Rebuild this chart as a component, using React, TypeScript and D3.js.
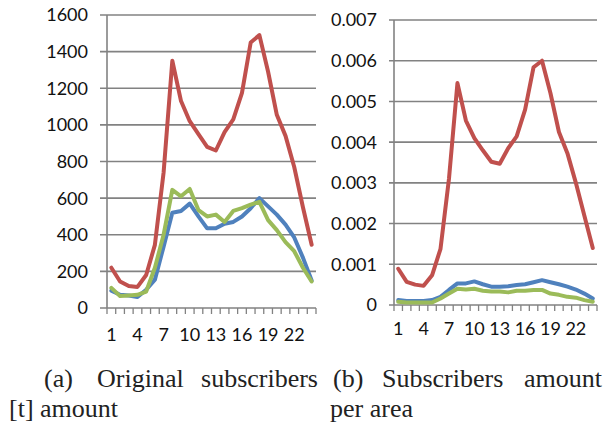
import React from 'react';
import * as d3 from 'd3';

// hour of day (x categories), shared by both panels
const hours = [1, 2, 3, 4, 5, 6, 7, 8, 9, 10, 11, 12, 13, 14, 15, 16, 17, 18, 19, 20, 21, 22, 23, 24];
const hourLabels = [1, 4, 7, 10, 13, 16, 19, 22];

// (a) original subscribers amount
const rawRed = [220, 145, 120, 115, 180, 345, 740, 1350, 1130, 1020, 950, 880, 860, 960, 1030, 1175, 1450, 1490, 1290, 1055, 940, 770, 550, 345];
const rawBlue = [95, 72, 68, 60, 100, 155, 335, 520, 530, 570, 500, 435, 435, 460, 470, 500, 545, 600, 555, 510, 455, 385, 275, 150];
const rawGreen = [110, 65, 68, 72, 90, 220, 400, 645, 610, 650, 535, 500, 510, 470, 530, 545, 565, 580, 480, 425, 360, 310, 220, 145];

// (b) subscribers amount per area
const areaRed = [0.00089, 0.00057, 0.0005, 0.00047, 0.00073, 0.00138, 0.0031, 0.00545, 0.00453, 0.0041, 0.0038, 0.00352, 0.00347, 0.00385, 0.00414, 0.0048, 0.00584, 0.006, 0.0052, 0.00425, 0.00373, 0.003, 0.0022, 0.0014];
const areaBlue = [0.00012, 0.0001, 0.0001, 0.0001, 0.00012, 0.0002, 0.00037, 0.00053, 0.00053, 0.00058, 0.00051, 0.00045, 0.00045, 0.00046, 0.00049, 0.00051, 0.00056, 0.00061, 0.00056, 0.00051, 0.00045, 0.00038, 0.00028, 0.00016];
const areaGreen = [0.00008, 0.00006, 0.00006, 0.00006, 0.00006, 0.00016, 0.00028, 0.0004, 0.00038, 0.0004, 0.00035, 0.00033, 0.00033, 0.00031, 0.00035, 0.00035, 0.00037, 0.00037, 0.00028, 0.00025, 0.0002, 0.00018, 0.00012, 0.00008];

const BLUE = '#4f81bd';
const RED = '#c0504d';
const GREEN = '#9bbb59';
const GRID = '#828282';
const TICK_FONT = 'Lato, Open Sans, sans-serif';
const SERIF = 'Liberation Serif, Times New Roman, Times, serif';

interface PanelProps {
  left: number;
  right: number;
  top: number;
  bottom: number;
  yMax: number;
  yTicks: number;
  gridStart: number;
  labelX: number;
  xLabelY: number;
  fmt: (v: number) => string;
  series: { values: number[]; color: string }[];
}

const Panel: React.FC<PanelProps> = ({ left, right, top, bottom, yMax, yTicks, gridStart, labelX, xLabelY, fmt, series }) => {
  const x = d3.scaleBand<number>().domain(hours).range([left, right]).padding(0);
  const y = d3.scaleLinear().domain([0, yMax]).range([bottom, top]);
  const cx = (h: number) => (x(h) as number) + x.bandwidth() / 2;
  const line = d3
    .line<number>()
    .x((_, i) => cx(hours[i]))
    .y((v) => y(v));
  const bounds = [left, ...hours.map((h) => (x(h) as number) + x.bandwidth())];

  return (
    <g>
      {y.ticks(yTicks).map((t) => (
        <g key={t}>
          <line x1={gridStart} x2={right} y1={y(t)} y2={y(t)} stroke={GRID} strokeWidth={1.6} />
          <text x={labelX} y={y(t)} dy="0.36em" textAnchor="end" fontFamily={TICK_FONT} fontSize={18} fill="#111">
            {fmt(t)}
          </text>
        </g>
      ))}
      <line x1={left} x2={left} y1={top} y2={bottom} stroke={GRID} strokeWidth={1.6} />
      {bounds.map((b, i) => (
        <line key={i} x1={b} x2={b} y1={bottom} y2={bottom + 6} stroke={GRID} strokeWidth={1.3} />
      ))}
      {hourLabels.map((h) => (
        <text key={h} x={cx(h)} y={xLabelY} textAnchor="middle" fontFamily={TICK_FONT} fontSize={18} fill="#111">
          {h}
        </text>
      ))}
      {series.map((s, i) => (
        <path key={i} d={line(s.values) || ''} fill="none" stroke={s.color} strokeWidth={4} strokeLinejoin="round" strokeLinecap="round" />
      ))}
    </g>
  );
};

const Word: React.FC<{ x: number; y: number; t: string; end?: boolean }> = ({ x, y, t, end }) => (
  <text x={x} y={y} textAnchor={end ? 'end' : 'start'} fontFamily={SERIF} fontSize={26} fill="#222">
    {t}
  </text>
);

export default function App() {
  return (
    <svg width={609} height={423} style={{ position: 'absolute', left: 0, top: 0, background: '#fff' }}>
      <Panel
        left={107}
        right={316}
        top={15}
        bottom={308}
        yMax={1600}
        yTicks={8}
        gridStart={100}
        labelX={88}
        xLabelY={341}
        fmt={(v) => d3.format('d')(v)}
        series={[
          { values: rawBlue, color: BLUE },
          { values: rawRed, color: RED },
          { values: rawGreen, color: GREEN },
        ]}
      />
      <Panel
        left={394}
        right={597}
        top={20}
        bottom={305}
        yMax={0.007}
        yTicks={7}
        gridStart={389}
        labelX={377}
        xLabelY={335}
        fmt={(v) => (v === 0 ? '0' : d3.format('.3f')(v))}
        series={[
          { values: areaBlue, color: BLUE },
          { values: areaRed, color: RED },
          { values: areaGreen, color: GREEN },
        ]}
      />
      <Word x={44} y={387} t="(a)" />
      <Word x={97} y={387} t="Original" />
      <Word x={318} y={387} t="subscribers" end />
      <Word x={9} y={417} t="[t] amount" />
      <Word x={333} y={387} t="(b)" />
      <Word x={382} y={387} t="Subscribers" />
      <Word x={602} y={387} t="amount" end />
      <Word x={330} y={417} t="per area" />
    </svg>
  );
}
